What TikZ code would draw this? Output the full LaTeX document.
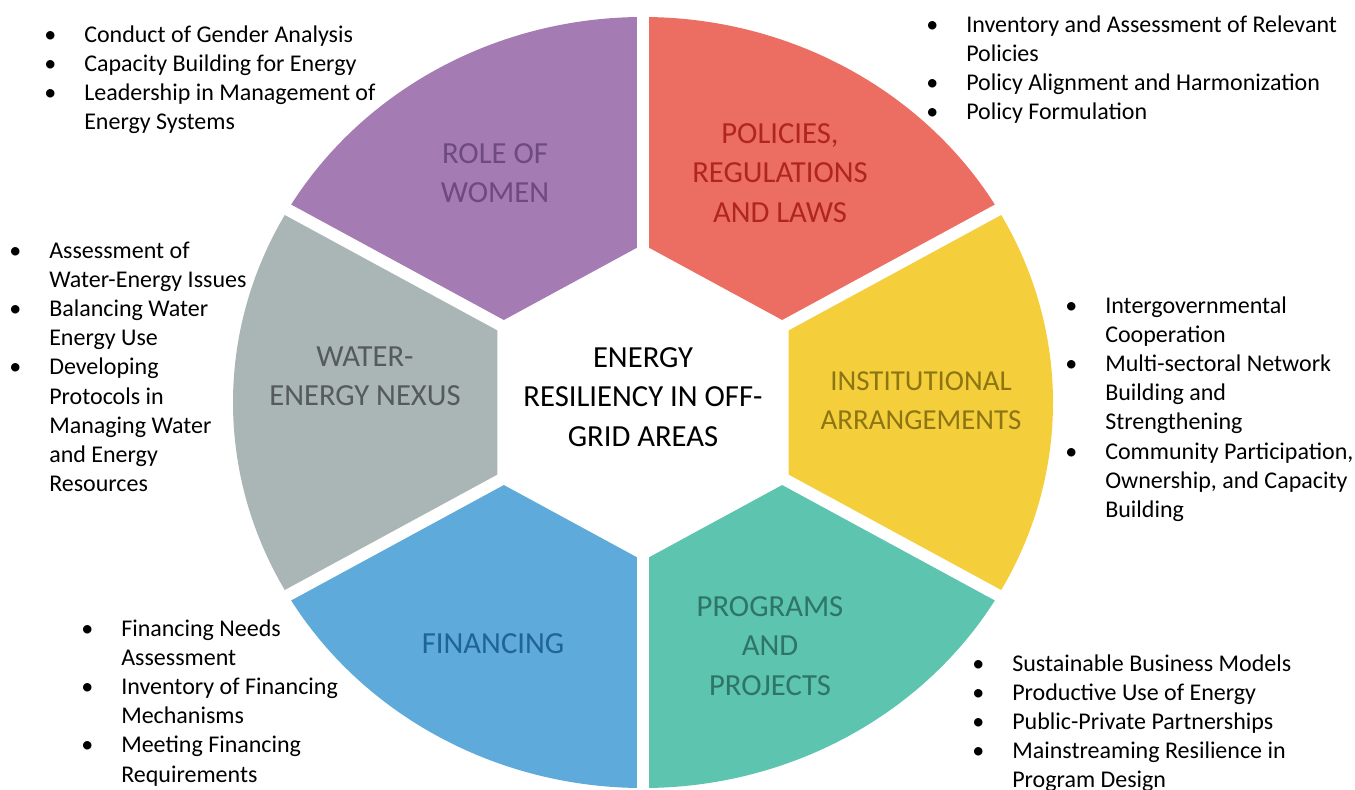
\documentclass[tikz,border=0pt]{standalone}
\usepackage{fontspec}
\setmainfont{Carlito}
\definecolor{cpurple}{HTML}{A57BB3}
\definecolor{cred}{HTML}{EC6E62}
\definecolor{cyellow}{HTML}{F4CF3B}
\definecolor{cgreen}{HTML}{5DC4AF}
\definecolor{cblue}{HTML}{5EAADA}
\definecolor{cgray}{HTML}{AAB5B5}
\definecolor{tpurple}{HTML}{6E4A80}
\definecolor{tred}{HTML}{B0261E}
\definecolor{tyellow}{HTML}{8C7512}
\definecolor{tgreen}{HTML}{2E7566}
\definecolor{tblue}{HTML}{1F6494}
\definecolor{tgray}{HTML}{555A5A}
% bullet hanging to the left of the text start
\newcommand\bl{\llap{\makebox[0pt][c]{•}\hspace{25.5pt}}}
\begin{document}
\begin{tikzpicture}[x=0.75pt,y=-0.75pt,
  seglabel/.style={align=center, inner sep=0pt, font=\fontsize{23}{29.6}\selectfont},
  bulletlist/.style={anchor=base west, inner sep=0pt, font=\fontsize{18}{21.9}\selectfont},
  gap/.style={white, line width=9pt}]
\useasboundingbox (0,0) rectangle (1355,789);
% the wheel: six segments around a hexagonal hole
\begin{scope}[shift={(643,402.5)}, x=307.5pt, y=289.125pt]
  \fill[cred]    (30:0.41)  -- (30:1)  arc[start angle=30,  end angle=90,  radius=1] -- (90:0.41)  -- cycle;
  \fill[cpurple] (90:0.41)  -- (90:1)  arc[start angle=90,  end angle=150, radius=1] -- (150:0.41) -- cycle;
  \fill[cgray]   (150:0.41) -- (150:1) arc[start angle=150, end angle=210, radius=1] -- (210:0.41) -- cycle;
  \fill[cblue]   (210:0.41) -- (210:1) arc[start angle=210, end angle=270, radius=1] -- (270:0.41) -- cycle;
  \fill[cgreen]  (270:0.41) -- (270:1) arc[start angle=270, end angle=330, radius=1] -- (330:0.41) -- cycle;
  \fill[cyellow] (330:0.41) -- (330:1) arc[start angle=330, end angle=390, radius=1] -- (390:0.41) -- cycle;
  \foreach \a in {30,90,...,330} \draw[gap] (\a:0.3) -- (\a:1.03);
\end{scope}

% segment titles
\node[seglabel, text=tpurple] (women)  at (495,173)   {ROLE OF\\WOMEN};
\node[seglabel, text=tred]    (policy) at (780,173)   {POLICIES,\\REGULATIONS\\AND LAWS};
\node[seglabel, text=tgray]   (water)  at (365,376.5) {WATER-\\ENERGY NEXUS};
\node[seglabel, text=tyellow, font=\fontsize{21.7}{29.6}\selectfont] (inst) at (921,400.5) {INSTITUTIONAL\\ARRANGEMENTS};
\node[seglabel, text=tblue]   (fin)    at (493,644)   {FINANCING};
\node[seglabel, text=tgreen]  (prog)   at (770,646)   {PROGRAMS\\AND\\PROJECTS};
\node[seglabel, text=black]   (core)   at (643,397)   {ENERGY\\RESILIENCY IN OFF-\\GRID AREAS};

% bullet lists
\node[bulletlist] (listwomen) at (84,42) {\begin{tabular}[t]{@{}l@{}}
\bl Conduct of Gender Analysis\\
\bl Capacity Building for Energy\\
\bl Leadership in Management of\\
Energy Systems\end{tabular}};
\node[bulletlist] (listpolicy) at (966,32) {\begin{tabular}[t]{@{}l@{}}
\bl Inventory and Assessment of Relevant\\
Policies\\
\bl Policy Alignment and Harmonization\\
\bl Policy Formulation\end{tabular}};
\node[bulletlist] (listwater) at (49,258) {\begin{tabular}[t]{@{}l@{}}
\bl Assessment of\\
Water-Energy Issues\\
\bl Balancing Water\\
Energy Use\\
\bl Developing\\
Protocols in\\
Managing Water\\
and Energy\\
Resources\end{tabular}};
\node[bulletlist] (listinst) at (1105,313) {\begin{tabular}[t]{@{}l@{}}
\bl Intergovernmental\\
Cooperation\\
\bl Multi-sectoral Network\\
Building and\\
Strengthening\\
\bl Community Participation,\\
Ownership, and Capacity\\
Building\end{tabular}};
\node[bulletlist] (listfin) at (121,636) {\begin{tabular}[t]{@{}l@{}}
\bl Financing Needs\\
Assessment\\
\bl Inventory of Financing\\
Mechanisms\\
\bl Meeting Financing\\
Requirements\end{tabular}};
\node[bulletlist] (listprog) at (1012,671) {\begin{tabular}[t]{@{}l@{}}
\bl Sustainable Business Models\\
\bl Productive Use of Energy\\
\bl Public-Private Partnerships\\
\bl Mainstreaming Resilience in\\
Program Design\end{tabular}};
\end{tikzpicture}
\end{document}
